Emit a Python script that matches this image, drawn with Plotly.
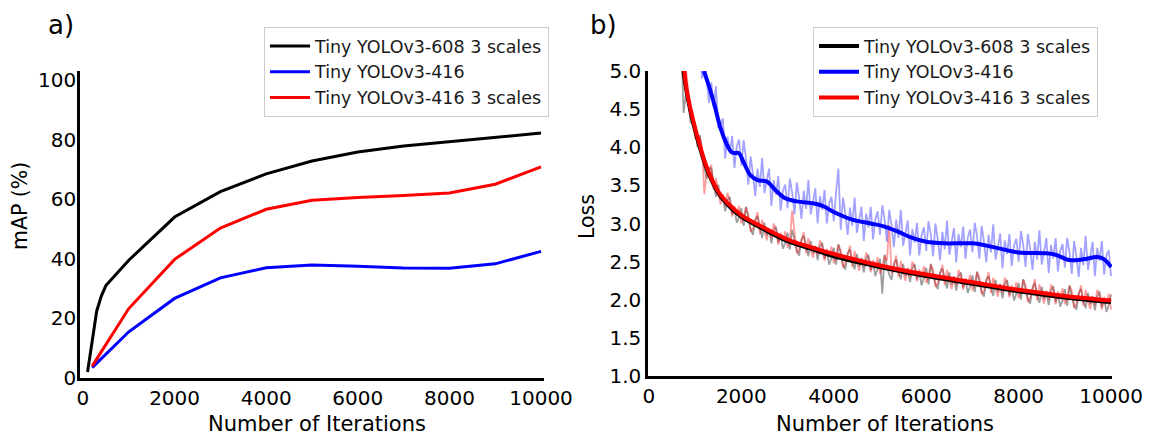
import plotly.graph_objects as go

# ---------------- Panel a) mAP ----------------
map_black_x = [100, 200, 300, 400, 500, 1000, 2000, 3000, 4000, 5000, 6000, 7000, 8000, 9000, 10000]
map_black_y = [2, 13, 22.5, 27.5, 31, 39.5, 54, 62.5, 68.5, 72.8, 75.8, 77.8, 79.3, 80.7, 82.2]

map_blue_x = [200, 1000, 2000, 3000, 4000, 5000, 6000, 7000, 8000, 9000, 10000]
map_blue_y = [3.5, 15.5, 26.7, 33.6, 37.0, 37.9, 37.5, 36.9, 36.8, 38.3, 42.5]

map_red_x = [200, 1000, 2000, 3000, 4000, 5000, 6000, 7000, 8000, 9000, 10000]
map_red_y = [4, 23.3, 39.8, 50.3, 56.6, 59.6, 60.6, 61.2, 62.1, 65.0, 70.8]

# ---------------- Panel b) loss: smoothed ----------------
sm_black_x = [740, 800, 900, 1000, 1100, 1250, 1500, 1750, 2000, 2500, 3000, 3500, 4000, 5000, 6000, 7000, 8000, 9000, 10000]
sm_black_y = [5.05, 4.78, 4.47, 4.22, 4.00, 3.72, 3.40, 3.22, 3.09, 2.92, 2.77, 2.67, 2.57, 2.43, 2.31, 2.21, 2.11, 2.03, 1.97]

sm_red_x = [760, 800, 900, 1000, 1100, 1250, 1500, 1750, 2000, 2500, 3000, 3500, 4000, 5000, 6000, 7000, 8000, 9000, 10000]
sm_red_y = [5.05, 4.82, 4.50, 4.25, 4.03, 3.74, 3.42, 3.24, 3.11, 2.94, 2.79, 2.69, 2.60, 2.45, 2.33, 2.23, 2.13, 2.05, 1.99]

sm_blue_x = [1190, 1300, 1420, 1550, 1700, 1800, 1950, 2050, 2200, 2350, 2550, 2750, 2950, 3200, 3600, 3800,
             4000, 4400, 4800, 5100, 5400, 5700, 6000, 6400, 7000, 7300, 7600, 8000, 8600, 8800, 9100, 9400,
             9700, 9850, 10000]
sm_blue_y = [5.0, 4.8, 4.55, 4.25, 4.02, 3.93, 3.92, 3.80, 3.63, 3.57, 3.55, 3.43, 3.33, 3.29, 3.26, 3.22,
             3.15, 3.05, 3.00, 2.96, 2.89, 2.81, 2.76, 2.74, 2.74, 2.71, 2.67, 2.62, 2.61, 2.59, 2.52, 2.53,
             2.56, 2.53, 2.43]

# ---------------- Panel b) loss: raw values, one every 50 iterations ----------------
raw_step = 50

raw_black_start = 700
raw_black = [5.40, 4.45, 4.70, 4.65, 4.33, 4.30, 4.32, 4.00, 4.16, 3.93,
             3.73, 3.59, 3.73, 3.72, 3.51, 3.35, 3.51, 3.31, 3.37, 3.16,
             3.31, 3.35, 3.12, 3.20, 3.01, 3.08, 3.20, 2.97, 3.22, 3.06,
             2.93, 2.85, 3.05, 3.10, 2.93, 2.81, 3.01, 2.84, 2.93, 2.74,
             2.91, 2.96, 2.75, 2.85, 2.67, 2.75, 2.88, 2.66, 2.92, 2.77,
             2.65, 2.58, 2.79, 2.84, 2.68, 2.57, 2.77, 2.61, 2.70, 2.52,
             2.69, 2.75, 2.54, 2.64, 2.46, 2.55, 2.68, 2.46, 2.73, 2.58,
             2.46, 2.40, 2.61, 2.66, 2.50, 2.40, 2.60, 2.44, 2.54, 2.36,
             2.53, 2.59, 2.39, 2.49, 2.31, 2.41, 2.54, 2.08, 2.59, 2.44,
             2.33, 2.26, 2.47, 2.53, 2.37, 2.27, 2.47, 2.31, 2.41, 2.23,
             2.41, 2.47, 2.27, 2.37, 2.19, 2.29, 2.42, 2.20, 2.47, 2.32,
             2.21, 2.14, 2.36, 2.41, 2.26, 2.15, 2.36, 2.20, 2.30, 2.12,
             2.30, 2.36, 2.16, 2.26, 2.09, 2.18, 2.32, 2.10, 2.37, 2.22,
             2.11, 2.04, 2.26, 2.31, 2.16, 2.05, 2.26, 2.10, 2.20, 2.02,
             2.20, 2.26, 2.06, 2.16, 1.99, 2.08, 2.22, 2.00, 2.27, 2.12,
             2.01, 1.95, 2.16, 2.22, 2.06, 1.96, 2.17, 2.01, 2.11, 1.93,
             2.11, 2.18, 1.97, 2.08, 1.91, 2.00, 2.14, 1.92, 2.19, 2.05,
             1.93, 1.87, 2.09, 2.14, 1.99, 1.89, 2.09, 1.94, 2.04, 1.86,
             2.04, 2.11, 1.90, 2.01, 1.84, 1.93, 2.07]

raw_red_start = 800
raw_red = [5.05, 4.68, 4.43, 4.45, 4.12, 4.11, 4.15, 4.00, 3.38, 3.67,
           3.70, 3.77, 3.44, 3.59, 3.40, 3.25, 3.38, 3.23, 3.40, 3.30,
           3.09, 3.23, 3.11, 3.23, 3.00, 3.08, 3.21, 3.13, 2.89, 2.93,
           3.02, 3.15, 2.86, 3.05, 2.90, 2.78, 2.94, 2.81, 3.00, 2.91,
           2.72, 2.88, 2.77, 2.90, 2.68, 2.77, 3.17, 2.84, 2.61, 2.66,
           2.76, 2.89, 2.61, 2.81, 2.66, 2.55, 2.71, 2.59, 2.78, 2.70,
           2.51, 2.67, 2.56, 2.70, 2.48, 2.57, 2.72, 2.65, 2.42, 2.48,
           2.58, 2.71, 2.43, 2.64, 2.49, 2.38, 2.55, 2.43, 2.62, 2.54,
           2.36, 2.52, 2.41, 2.56, 2.34, 2.43, 2.58, 2.51, 2.98, 2.34,
           2.44, 2.58, 2.30, 2.51, 2.36, 2.25, 2.42, 2.30, 2.50, 2.42,
           2.24, 2.40, 2.29, 2.44, 2.22, 2.31, 2.46, 2.39, 2.17, 2.22,
           2.33, 2.46, 2.19, 2.39, 2.25, 2.14, 2.31, 2.19, 2.39, 2.31,
           2.13, 2.29, 2.19, 2.33, 2.12, 2.21, 2.36, 2.29, 2.07, 2.12,
           2.23, 2.36, 2.09, 2.29, 2.15, 2.04, 2.21, 2.09, 2.29, 2.21,
           2.03, 2.19, 2.09, 2.23, 2.02, 2.11, 2.26, 2.19, 1.97, 2.03,
           2.13, 2.27, 1.99, 2.20, 2.06, 1.95, 2.12, 2.00, 2.20, 2.13,
           1.94, 2.11, 2.01, 2.15, 1.94, 2.03, 2.18, 2.12, 1.89, 1.95,
           2.06, 2.19, 1.92, 2.13, 1.98, 1.88, 2.05, 1.93, 2.13, 2.06,
           1.87, 2.04, 1.94, 2.08, 1.87]

raw_blue_start = 1100
raw_blue = [5.30, 4.90, 5.22, 4.93, 4.58, 4.85, 4.52, 4.80, 4.25, 4.30,
            4.38, 3.85, 4.14, 3.92, 4.15, 3.73, 4.01, 4.10, 3.76, 4.09,
            3.85, 3.51, 3.88, 3.65, 3.36, 3.72, 3.48, 3.86, 3.40, 3.57,
            3.72, 3.23, 3.57, 3.38, 3.62, 3.17, 3.43, 3.51, 3.20, 3.59,
            3.40, 3.12, 3.54, 3.34, 3.06, 3.43, 3.19, 3.57, 3.12, 3.28,
            3.46, 3.00, 3.36, 3.18, 3.44, 3.00, 3.26, 3.35, 3.03, 3.41,
            3.72, 2.92, 3.34, 3.13, 2.85, 3.21, 2.97, 3.34, 2.88, 3.05,
            3.22, 2.77, 3.13, 2.95, 3.22, 2.79, 3.06, 3.16, 2.85, 3.24,
            3.05, 2.76, 3.18, 2.97, 2.69, 3.05, 2.81, 3.18, 2.71, 2.87,
            3.04, 2.58, 2.93, 2.75, 3.01, 2.58, 2.85, 2.95, 2.64, 3.03,
            2.85, 2.57, 3.00, 2.79, 2.52, 2.89, 2.66, 3.04, 2.59, 2.76,
            2.94, 2.49, 2.86, 2.69, 2.96, 2.54, 2.82, 2.92, 2.62, 3.01,
            2.83, 2.54, 2.97, 2.76, 2.49, 2.85, 2.62, 2.99, 2.53, 2.69,
            2.87, 2.41, 2.78, 2.60, 2.86, 2.44, 2.71, 2.80, 2.50, 2.90,
            2.71, 2.43, 2.86, 2.66, 2.39, 2.76, 2.53, 2.91, 2.46, 2.63,
            2.81, 2.35, 2.72, 2.54, 2.81, 2.37, 2.64, 2.73, 2.42, 2.81,
            2.62, 2.34, 2.77, 2.57, 2.30, 2.68, 2.45, 2.84, 2.39, 2.57,
            2.76, 2.31, 2.68, 2.51, 2.77, 2.33, 2.58, 2.65, 2.31]

FONT = "DejaVu Sans"
PAGE_OFFSET = 8          # the page body margin that the browser adds around the figure
W, H = 1153 - PAGE_OFFSET, 441 - PAGE_OFFSET


def px_x(p):
    return (p - PAGE_OFFSET) / W


def px_y(p):
    return 1 - (p - PAGE_OFFSET) / H


def xs(start, vals):
    return [start + raw_step * i for i in range(len(vals))]


fig = go.Figure()

# Panel a
fig.add_trace(go.Scatter(x=map_black_x, y=map_black_y, mode="lines", name="Tiny YOLOv3-608 3 scales",
                         line=dict(color="black", width=3), xaxis="x", yaxis="y", legend="legend"))
fig.add_trace(go.Scatter(x=map_blue_x, y=map_blue_y, mode="lines", name="Tiny YOLOv3-416",
                         line=dict(color="#0000ff", width=3), xaxis="x", yaxis="y", legend="legend"))
fig.add_trace(go.Scatter(x=map_red_x, y=map_red_y, mode="lines", name="Tiny YOLOv3-416 3 scales",
                         line=dict(color="#ff0000", width=3), xaxis="x", yaxis="y", legend="legend"))

# Panel b raw
fig.add_trace(go.Scatter(x=xs(raw_black_start, raw_black), y=raw_black, mode="lines", showlegend=False,
                         line=dict(color="rgba(0,0,0,0.38)", width=1.8), xaxis="x2", yaxis="y2", hoverinfo="skip"))
fig.add_trace(go.Scatter(x=xs(raw_blue_start, raw_blue), y=raw_blue, mode="lines", showlegend=False,
                         line=dict(color="rgba(0,0,255,0.36)", width=1.8), xaxis="x2", yaxis="y2", hoverinfo="skip"))
fig.add_trace(go.Scatter(x=xs(raw_red_start, raw_red), y=raw_red, mode="lines", showlegend=False,
                         line=dict(color="rgba(255,0,0,0.38)", width=1.8), xaxis="x2", yaxis="y2", hoverinfo="skip"))

# Panel b smooth
fig.add_trace(go.Scatter(x=sm_black_x, y=sm_black_y, mode="lines", name="Tiny YOLOv3-608 3 scales",
                         line=dict(color="black", width=4, shape="spline"), xaxis="x2", yaxis="y2", legend="legend2"))
fig.add_trace(go.Scatter(x=sm_blue_x, y=sm_blue_y, mode="lines", name="Tiny YOLOv3-416",
                         line=dict(color="#0000ff", width=4, shape="spline"), xaxis="x2", yaxis="y2", legend="legend2"))
fig.add_trace(go.Scatter(x=sm_red_x, y=sm_red_y, mode="lines", name="Tiny YOLOv3-416 3 scales",
                         line=dict(color="#ff0000", width=4, shape="spline"), xaxis="x2", yaxis="y2", legend="legend2"))

axis_common = dict(showline=True, linecolor="black", linewidth=2.5, showgrid=False, zeroline=False,
                   ticks="", automargin=False, tickfont=dict(family=FONT, size=20, color="black"))

x_tickvals = [0, 2000, 4000, 6000, 8000, 10000]
x_ticktext = ["0", "2000", "4000", "6000", "8000", "10000"]

legend_common = dict(font=dict(family=FONT, size=17.5, color="#1a1a1a"), bgcolor="rgba(255,255,255,0.9)",
                     bordercolor="#cccccc", borderwidth=1, xanchor="left", yanchor="top",
                     xref="paper", yref="paper", itemwidth=40)

fig.update_layout(
    width=W, height=H, margin=dict(l=0, r=0, t=0, b=0, autoexpand=False),
    paper_bgcolor="white", plot_bgcolor="white",
    font=dict(family=FONT, color="black"),
    xaxis=dict(domain=[px_x(80), px_x(544)], range=[-65, 10065], anchor="y",
               tickvals=x_tickvals, ticktext=x_ticktext, ticklabelstandoff=0, **axis_common),
    yaxis=dict(domain=[px_y(378), px_y(71)], range=[0, 103], anchor="x",
               tickvals=[0, 20, 40, 60, 80, 100], ticklabelstandoff=-3, **axis_common),
    xaxis2=dict(domain=[px_x(648), px_x(1112)], range=[-20, 10020], anchor="y2",
                tickvals=x_tickvals, ticktext=x_ticktext, ticklabelstandoff=0, **axis_common),
    yaxis2=dict(domain=[px_y(376), px_y(71)], range=[1.0, 5.0], anchor="x2",
                tickvals=[1.0, 1.5, 2.0, 2.5, 3.0, 3.5, 4.0, 4.5, 5.0], tickformat=".1f",
                ticklabelstandoff=0, **axis_common),
    legend=dict(x=px_x(264), y=px_y(27), **legend_common),
    legend2=dict(x=px_x(813), y=px_y(27), **legend_common),
    annotations=[
        dict(text="a)", x=px_x(61), y=1.0, xref="paper", yref="paper", showarrow=False,
             font=dict(family=FONT, size=26, color="black"), xanchor="center", yanchor="top"),
        dict(text="b)", x=px_x(603), y=1.0, xref="paper", yref="paper", showarrow=False,
             font=dict(family=FONT, size=26, color="black"), xanchor="center", yanchor="top"),
        dict(text="mAP (%)", x=px_x(20), y=px_y(206), xref="paper", yref="paper", showarrow=False,
             textangle=-90, font=dict(family=FONT, size=20.5, color="black"), xanchor="center", yanchor="middle"),
        dict(text="Loss", x=px_x(587), y=px_y(217), xref="paper", yref="paper", showarrow=False,
             textangle=-90, font=dict(family=FONT, size=20.5, color="black"), xanchor="center", yanchor="middle"),
        dict(text="Number of Iterations", x=px_x(317), y=px_y(424), xref="paper", yref="paper", showarrow=False,
             font=dict(family=FONT, size=21, color="black"), xanchor="center", yanchor="middle"),
        dict(text="Number of Iterations", x=px_x(885), y=px_y(424), xref="paper", yref="paper", showarrow=False,
             font=dict(family=FONT, size=21, color="black"), xanchor="center", yanchor="middle"),
    ],
)

fig.write_html("out.html")
